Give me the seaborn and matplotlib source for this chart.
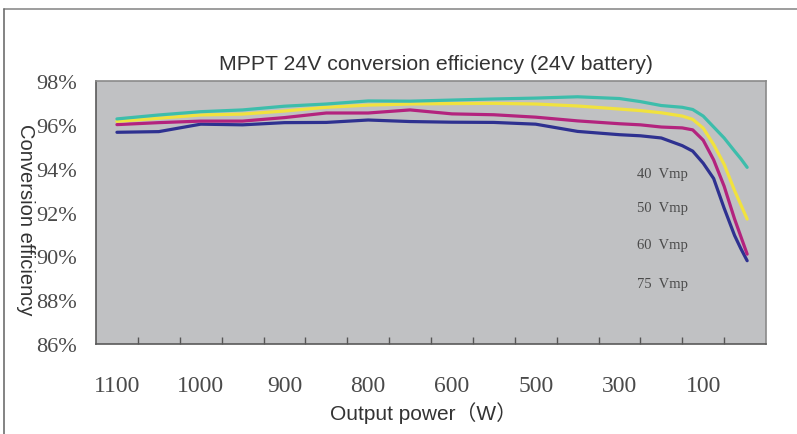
import matplotlib
matplotlib.use("Agg")
import matplotlib.pyplot as plt
from matplotlib.lines import Line2D
import numpy as np
import pandas as pd
import seaborn as sns

# Horizontal position of each sample, in axis slots (each labelled power spans two slots)
slot = [0.5, 1.5, 2.5, 3.5, 4.5, 5.5, 6.5, 7.5, 8.5, 9.5, 10.5, 11.5,
        12.5, 13.0, 13.5, 14.0, 14.25, 14.5, 14.75, 15.0, 15.25, 15.4, 15.55]

# Conversion efficiency (%) for each panel Vmp
eff_40 = [96.27, 96.45, 96.60, 96.68, 96.85, 96.95, 97.09, 97.08, 97.13, 97.18, 97.22,
          97.28, 97.20, 97.06, 96.88, 96.80, 96.70, 96.40, 95.90, 95.40, 94.80, 94.45, 94.06]
eff_50 = [96.16, 96.30, 96.45, 96.49, 96.63, 96.80, 96.90, 96.95, 96.97, 96.98, 96.95,
          96.86, 96.72, 96.65, 96.55, 96.40, 96.25, 95.85, 95.10, 94.20, 93.00, 92.35, 91.70]
eff_60 = [96.01, 96.10, 96.17, 96.17, 96.33, 96.54, 96.54, 96.68, 96.50, 96.46, 96.35,
          96.18, 96.05, 96.00, 95.90, 95.86, 95.77, 95.30, 94.40, 93.20, 91.70, 90.90, 90.10]
eff_75 = [95.66, 95.69, 96.03, 96.00, 96.10, 96.11, 96.22, 96.15, 96.12, 96.11, 96.03,
          95.70, 95.55, 95.50, 95.40, 95.05, 94.80, 94.25, 93.55, 92.20, 90.95, 90.35, 89.80]

series_names = ["40 Vmp", "50 Vmp", "60 Vmp", "75 Vmp"]
series_label_y = [93.76, 92.21, 90.52, 88.74]

power_labels = ["1100", "1000", "900", "800", "600", "500", "300", "100"]
power_slots = [0.5, 2.5, 4.5, 6.5, 8.5, 10.5, 12.5, 14.5]

y_ticks = [86, 88, 90, 92, 94, 96, 98]

df = pd.concat([
    pd.DataFrame({"slot": slot, "eff": vals, "series": name})
    for name, vals in zip(series_names, [eff_40, eff_50, eff_60, eff_75])
], ignore_index=True)

palette = {"40 Vmp": "#3dbdab", "50 Vmp": "#f1e23e",
           "60 Vmp": "#b3237e", "75 Vmp": "#2e3190"}

sns.set_theme(style="white")
plt.rcParams["font.family"] = ["Liberation Sans", "Noto Sans CJK SC", "DejaVu Sans"]

fig = plt.figure(figsize=(7.97, 4.35), dpi=100)
ax = fig.add_axes([96 / 797, 1 - 345 / 435, 670 / 797, 263 / 435])
ax.set_facecolor("#c0c1c3")

sns.lineplot(data=df, x="slot", y="eff", hue="series", palette=palette,
             hue_order=series_names[::-1], estimator=None, sort=False,
             linewidth=2.3, legend=False, ax=ax)

ax.set_xlim(0, 16)
ax.set_ylim(86, 98)

# Labelled powers (no marks) and evenly spaced inward minor ticks
ax.set_xticks(power_slots)
ax.set_xticklabels(power_labels, family="Liberation Serif", fontsize=17, color="#4a4a4a")
ax.set_xticks(np.arange(1, 16), minor=True)
ax.tick_params(axis="x", which="major", length=0, pad=22)
ax.tick_params(axis="x", which="minor", direction="in", length=5, width=1,
               color="#555555", bottom=True)

ax.set_yticks(y_ticks)
ax.set_yticklabels([f"{v}%" for v in y_ticks], family="Liberation Serif",
                   fontsize=16, color="#4a4a4a")
ax.tick_params(axis="y", which="major", length=0, pad=14)

for side, sp in ax.spines.items():
    sp.set_visible(True)
    sp.set_linewidth(1.2)
    sp.set_color("#5a5a5a" if side in ("left", "bottom") else "#8a8a8a")

for name, yv in zip(series_names, series_label_y):
    ax.text(12.92, yv, name.replace(" ", "  "), family="Liberation Serif",
            fontsize=10.5, color="#4a4a4a", ha="left", va="center")

ax.set_xlabel("")
ax.set_ylabel("")
fig.text(436 / 797, 1 - 64 / 435, "MPPT 24V conversion efficiency (24V battery)",
         ha="center", va="center", fontsize=15.3, color="#333333")
fig.text(424 / 797, 1 - 413 / 435, "Output power（W）",
         ha="center", va="center", fontsize=15, color="#333333")
fig.text(25 / 797, 1 - 220 / 435, "Conversion efficiency", rotation=-90,
         ha="center", va="center", fontsize=14.5, color="#333333")

# Outer frame along the top and left edges
fig.add_artist(Line2D([4 / 797, 1.0], [1 - 10 / 435, 1 - 10 / 435],
                      transform=fig.transFigure, color="#8c8c8c", linewidth=1.2))
fig.add_artist(Line2D([4 / 797, 4 / 797], [0.0, 1 - 10 / 435],
                      transform=fig.transFigure, color="#6e6e6e", linewidth=1.2))

fig.savefig("out.png", dpi=100)
